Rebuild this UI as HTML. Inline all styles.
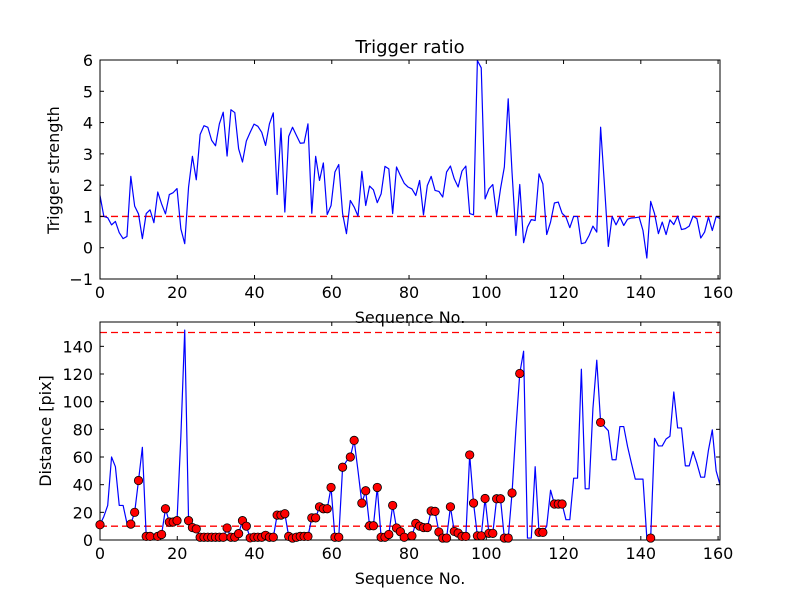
<!DOCTYPE html>
<html><head><meta charset="utf-8"><style>
html,body{margin:0;padding:0;background:#fff;}
svg{display:block;font-family:"DejaVu Sans","Liberation Sans",sans-serif;}
</style></head><body>
<svg id="chart" width="800" height="600" viewBox="0 0 800 600" xmlns="http://www.w3.org/2000/svg">
<rect width="800" height="600" fill="#fff"/>
<text x="410" y="53" font-size="18" text-anchor="middle">Trigger ratio</text>
<g id="top"></g>
<g id="bot"></g>
</svg>
<script>
const strength = [1.67,1.0,0.96,0.73,0.84,0.48,0.29,0.36,2.28,1.33,
1.08,0.29,1.09,1.21,0.8,1.78,1.4,1.08,1.7,1.76,
1.89,0.6,0.13,1.94,2.92,2.17,3.62,3.9,3.85,3.43,
3.26,3.96,4.33,2.93,4.41,4.32,3.16,2.74,3.41,3.69,
3.95,3.88,3.69,3.27,3.96,4.31,1.7,3.82,1.14,3.56,
3.85,3.59,3.34,3.35,3.96,1.1,2.92,2.15,2.71,1.06,
1.35,2.42,2.66,1.09,0.45,1.51,1.3,1.01,2.44,1.35,
1.97,1.85,1.44,1.72,2.6,2.52,1.09,2.58,2.31,2.06,
1.94,1.88,1.67,2.15,1.05,1.99,2.28,1.83,1.8,1.62,
2.42,2.61,2.2,1.94,2.45,2.61,1.09,1.05,5.98,5.75,
1.56,1.88,2.02,1.03,1.88,2.58,4.76,2.4,0.39,2.02,
0.16,0.66,0.9,0.87,2.36,2.04,0.42,0.82,1.43,1.46,
1.1,0.98,0.64,1.0,1.0,0.13,0.16,0.39,0.69,0.5,
3.85,2.0,0.04,1.0,0.73,0.98,0.71,0.91,0.95,0.96,
0.98,0.55,-0.33,1.48,1.09,0.45,0.82,0.42,0.89,0.74,
1.01,0.58,0.61,0.69,1.01,0.93,0.31,0.5,0.98,0.55,
1.0,0.93];
const distance = [11,17,25,60,53,25,25,12,11.5,20,
43,67,2.6,2.6,1.5,2.6,4,22.6,13,13,
14,75,151.7,14,9,8,2,2,2,2,
2,2,2,8.7,2,2,4.6,14,10,1.5,
2,2,2,3.4,2,2,18,18,19,2.6,
1.4,2,2.6,2.6,2.6,16,16,24,22.6,22.6,
38,2,2,52.6,57,60,72,50,26.7,35.6,
10.3,10.3,38,2,2,4,25,8.7,6,2,
2,3,12,10,9,9,21,20.7,5.8,1.4,
1.4,24,6.2,5,2.6,2.6,61.5,26.7,3,3,
30,4.8,4.8,29.8,29.8,1.4,1.4,34,80,120.4,
136.5,1.4,1.4,53,5.5,5.5,10,36,26,26,
26,14.7,14.7,44.7,44.7,123.5,37,37,95,130,
85,82,79,58,58,82,82,67.5,55.5,44,
44,44,1.4,1.4,73.5,68,68,73,75,107,
81,81,53.6,53.6,64,55.5,45.4,45.4,65,79.6,
50,40];
const markerIdx = [0,8,9,10,12,13,15,16,17,18,19,20,23,24,25,26,27,28,29,30,31,32,33,34,35,36,37,38,39,40,41,42,43,44,45,46,47,48,49,50,51,52,53,54,55,56,57,58,59,60,61,62,63,65,66,68,69,70,71,72,73,74,75,76,77,78,79,81,82,83,84,85,86,87,88,89,90,91,92,93,94,95,96,97,98,99,100,101,102,103,104,105,106,107,109,114,115,118,119,120,130,143];
const xTicks = [0,20,40,60,80,100,120,140,160];
const topYTicks = [-1,0,1,2,3,4,5,6];
const botYTicks = [0,20,40,60,80,100,120,140];
const topThreshold = [1];
const botThresholds = [10,150];

const NS = "http://www.w3.org/2000/svg";
const L = 100, R = 720, XMAX = 160.5;
const N = strength.length;
function xTick(v){ return L + v * (R - L) / XMAX; }
function xIdx(i){ return L + i * (R - L) / (N - 1); }
function mk(tag, attrs, parent){ const e = document.createElementNS(NS, tag); for (const k in attrs) e.setAttribute(k, attrs[k]); parent.appendChild(e); return e; }

function panel(g, T, B, ymin, ymax, yTicks, yLabel, series, thresholds, pfx){
  const yS = v => B - (v - ymin) * (B - T) / (ymax - ymin);
  // thresholds
  thresholds.forEach(t => {
    const ln = mk('line', {x1:L, x2:R, y1:yS(t), y2:yS(t), stroke:'#ff0000', 'stroke-width':1.3, 'stroke-dasharray':'7,4'}, g);
    
    
  });
  // series line
  let d = '';
  series.forEach((v, i) => { d += (i ? 'L' : 'M') + xIdx(i).toFixed(2) + ',' + yS(v).toFixed(2); });
  const p = mk('path', {d:d, fill:'none', stroke:'#0000ff', 'stroke-width':1.2, 'stroke-linejoin':'round'}, g);
  
  
  // frame
  const fr = mk('rect', {x:L, y:T, width:R-L, height:B-T, fill:'none', stroke:'#000', 'stroke-width':1}, g);
  
  
  // x ticks
  xTicks.forEach(t => {
    const x = xTick(t);
    mk('line', {x1:x, x2:x, y1:B, y2:B-4, stroke:'#000'}, g);
    mk('line', {x1:x, x2:x, y1:T, y2:T+4, stroke:'#000'}, g);
    const tx = mk('text', {x:x, y:B+19, 'font-size':16, 'text-anchor':'middle'}, g);
    tx.textContent = t;
    
    
  });
  // y ticks
  yTicks.forEach(t => {
    const y = yS(t);
    mk('line', {x1:L, x2:L+4, y1:y, y2:y, stroke:'#000'}, g);
    mk('line', {x1:R, x2:R-4, y1:y, y2:y, stroke:'#000'}, g);
    const tx = mk('text', {x:L-7, y:y+6, 'font-size':16, 'text-anchor':'end'}, g);
    tx.textContent = t < 0 ? '\u2212' + (-t) : t;
    
    
  });
  const xl = mk('text', {x:(L+R)/2, y:B+44, 'font-size':16, 'text-anchor':'middle'}, g);
  xl.textContent = 'Sequence No.';
  
  
  return yS;
}

const gTop = document.getElementById('top');
const gBot = document.getElementById('bot');
const yTop = panel(gTop, 60, 279, -1, 6, topYTicks, 'Trigger strength', strength, topThreshold, 'top');
const yBot = panel(gBot, 322, 540, 0, 157.6, botYTicks, 'Distance [pix]', distance, botThresholds, 'bottom');

markerIdx.forEach(i => {
  const c = mk('circle', {cx:xIdx(i), cy:yBot(distance[i]), r:4.2, fill:'#ff0000', stroke:'#000', 'stroke-width':0.8}, gBot);
  
  
});

const yl1 = mk('text', {x:0, y:0, 'font-size':16, 'text-anchor':'middle', transform:'translate(59,170) rotate(-90)'}, gTop);
yl1.textContent = 'Trigger strength';


const yl2 = mk('text', {x:0, y:0, 'font-size':16, 'text-anchor':'middle', transform:'translate(51,431) rotate(-90)'}, gBot);
yl2.textContent = 'Distance [pix]';


</script>
</body></html>
